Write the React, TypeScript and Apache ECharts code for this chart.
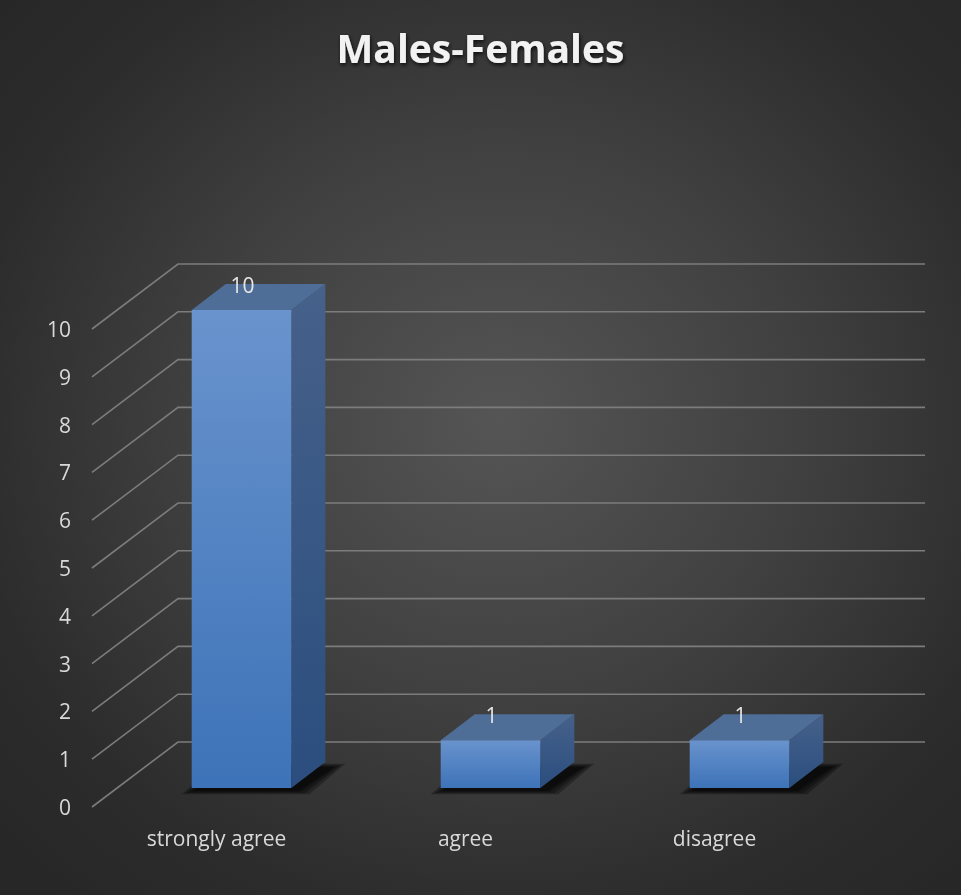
import React, { useEffect, useRef } from "react";
import * as echarts from "echarts";

const categories = ["strongly agree", "agree", "disagree"];
const values = [10, 1, 1];
const yTicks = [0, 1, 2, 3, 4, 5, 6, 7, 8, 9, 10];
const titleText = "Males-Females";

// perspective offsets (pixels)
const FLOOR_DX = 86;
const FLOOR_DY = -65;
const BAR_DX = 34;
const BAR_DY = -26;

export default function App() {
  const ref = useRef<HTMLDivElement>(null);
  useEffect(() => {
    if (!ref.current) return;
    const chart = echarts.init(ref.current, null, { renderer: "svg" });
    const labelColor = "#d9d9d9";
    const font = "'Open Sans', 'Noto Sans', sans-serif";
    chart.setOption({
      animation: false,
      backgroundColor: "transparent",
      title: {
        text: titleText,
        left: "center",
        top: 23,
        textStyle: {
          color: "#f2f2f2",
          fontSize: 39,
          fontWeight: "bold",
          fontFamily: font,
          textShadowColor: "rgba(0,0,0,0.8)",
          textShadowBlur: 4,
          textShadowOffsetX: 1,
          textShadowOffsetY: 2,
        },
      },
      grid: [
        { left: 178, right: 36, top: 264, bottom: 153 },
        { left: 92, right: 122, top: 329, bottom: 88 },
        { left: 117, right: 97, top: 310, bottom: 107 },
      ],
      xAxis: [
        { gridIndex: 0, type: "value", min: 0, max: 1, show: false },
        {
          gridIndex: 1,
          type: "category",
          data: categories,
          axisLine: { show: false },
          axisTick: { show: false },
          axisLabel: { color: labelColor, fontSize: 21, fontFamily: font, margin: 20 },
        },
        { gridIndex: 2, type: "category", data: categories, show: false },
      ],
      yAxis: [
        { gridIndex: 0, type: "value", min: 0, max: 10, interval: 1, show: false },
        {
          gridIndex: 1,
          type: "value",
          min: 0,
          max: 10,
          interval: 1,
          axisLine: { show: false },
          axisTick: { show: false },
          splitLine: { show: false },
          axisLabel: { color: labelColor, fontSize: 21, fontFamily: font, margin: 21 },
        },
        { gridIndex: 2, type: "value", min: 0, max: 10, interval: 1, show: false },
      ],
      series: [
        {
          type: "custom",
          xAxisIndex: 0,
          yAxisIndex: 0,
          z: 1,
          silent: true,
          data: yTicks.map((t) => [0, t]),
          renderItem: (params: any, api: any) => {
            const v = api.value(1);
            const pl = api.coord([0, v]);
            const pr = api.coord([1, v]);
            return {
              type: "polyline",
              shape: {
                points: [
                  [pl[0] - FLOOR_DX, pl[1] - FLOOR_DY],
                  [pl[0], pl[1]],
                  [pr[0], pr[1]],
                ],
              },
              style: { stroke: "#7c7c7c", lineWidth: 1.6, fill: null },
            };
          },
        },
        {
          type: "custom",
          xAxisIndex: 2,
          yAxisIndex: 2,
          z: 5,
          data: values.map((v, i) => [i, v]),
          renderItem: (params: any, api: any) => {
            const cat = api.value(0);
            const val = api.value(1);
            const p0 = api.coord([cat, 0]);
            const p1 = api.coord([cat, val]);
            const w = api.size([1, 0])[0] * 0.4;
            const xl = p0[0] - w / 2;
            const xr = p0[0] + w / 2;
            const yb = p0[1];
            const yt = p1[1];
            const shadowLayers = [14, 10, 6, 3].map((e) => ({
              type: "polygon",
              shape: {
                points: [
                  [xl - e + 4, yb + 2 + e * 0.3],
                  [xr + e + 4, yb + 2 + e * 0.3],
                  [xr + BAR_DX + e + 6, yb + BAR_DY + 6 - e * 0.3],
                  [xl + BAR_DX - e + 6, yb + BAR_DY + 6 - e * 0.3],
                ],
              },
              style: { fill: "rgba(0,0,0,0.3)" },
            }));
            return {
              type: "group",
              children: [
                ...shadowLayers,
                {
                  type: "polygon",
                  shape: {
                    points: [
                      [xr, yt],
                      [xr + BAR_DX, yt + BAR_DY],
                      [xr + BAR_DX, yb + BAR_DY],
                      [xr, yb],
                    ],
                  },
                  style: {
                    fill: new echarts.graphic.LinearGradient(0, 0, 0, 1, [
                      { offset: 0, color: "#46618a" },
                      { offset: 1, color: "#2b4e7f" },
                    ]),
                  },
                },
                {
                  type: "polygon",
                  shape: {
                    points: [
                      [xl, yt],
                      [xr, yt],
                      [xr + BAR_DX, yt + BAR_DY],
                      [xl + BAR_DX, yt + BAR_DY],
                    ],
                  },
                  style: { fill: "#4e6d97" },
                },
                {
                  type: "rect",
                  shape: { x: xl, y: yt, width: w, height: yb - yt },
                  style: {
                    fill: new echarts.graphic.LinearGradient(0, 0, 0, 1, [
                      { offset: 0, color: "#6993cd" },
                      { offset: 1, color: "#3d73b8" },
                    ]),
                  },
                },
                {
                  type: "text",
                  x: p1[0] + 1,
                  y: yt + BAR_DY + 1,
                  style: {
                    text: String(val),
                    fill: "#e6e6e6",
                    fontSize: 21,
                    fontFamily: font,
                    align: "center",
                    verticalAlign: "middle",
                  },
                },
              ],
            };
          },
        },
      ],
    });
    return () => chart.dispose();
  }, []);
  return (
    <div
      style={{
        position: "fixed",
        left: 0,
        top: 0,
        width: 961,
        height: 895,
        background:
          "radial-gradient(ellipse 70% 70% at 52% 47%, #555555 0%, #404040 45%, #2c2c2c 80%, #272727 100%)",
      }}
    >
      <div ref={ref} style={{ width: 961, height: 895 }} />
    </div>
  );
}
